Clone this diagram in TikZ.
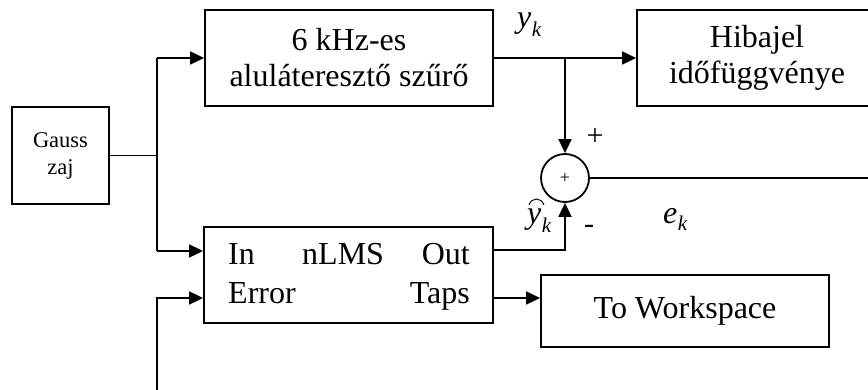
\documentclass[tikz,border=0pt]{standalone}
\usepackage{fontspec}
\setmainfont{Liberation Serif}
\usetikzlibrary{arrows.meta,calc}
\begin{document}
\begin{tikzpicture}[x=1pt,y=-1pt,
  blk/.style={draw,line width=1.8pt,rectangle,inner sep=0pt,align=center,font=\fontsize{32}{36}\selectfont},
  wire/.style={line width=1.8pt},
  arr/.style={line width=1.8pt,-{Triangle[length=14pt,width=13pt]}},
  lbl/.style={inner sep=0pt,font=\fontsize{32}{36}\selectfont},
  sub/.style={inner sep=0pt,font=\fontsize{21}{21}\selectfont}]
\useasboundingbox (0,0) rectangle (868,390);
\clip (0,0) rectangle (868,390);
% blocks
\node[blk,minimum width=97pt,minimum height=97pt,font=\fontsize{22.5}{27}\selectfont] (gauss) at (60.5,155.5) {Gauss\\zaj};
\node[blk,minimum width=288pt,minimum height=96pt] (filt) at (349,58) {6 kHz-es\\aluláteresztő szűrő};
\node[blk,minimum width=240pt,minimum height=96pt] (hib) at (757,58) {Hibajel\\időfüggvénye};
\node[draw,line width=1.8pt,circle,minimum size=48pt,inner sep=0pt,font=\fontsize{18}{18}\selectfont] (sum) at (565,178) {+};
\node[blk,minimum width=289pt,minimum height=96pt] (nlms) at (348.5,275) {};
\node[blk,minimum width=288pt,minimum height=72pt] (tows) at (685,311) {To Workspace};
% nLMS port texts
\node[lbl,anchor=base west] (tin) at (228,265) {In};
\node[lbl,anchor=base west] (tnlms) at (302,265) {nLMS};
\node[lbl,anchor=base east] (tout) at (470,265) {Out};
\node[lbl,anchor=base west] (terr) at (228,303) {Error};
\node[lbl,anchor=base east] (ttaps) at (470,303) {Taps};
% coordinates
\coordinate (jg) at (gauss.east -| 157,0);
\coordinate (jtop) at (157,58);
\coordinate (jin) at (157,251);
\coordinate (pin) at (nlms.west |- jin);
\coordinate (ebot) at (157,392);
\coordinate (jerr) at (157,298);
\coordinate (perr) at (nlms.west |- jerr);
\coordinate (jy) at (565,58);
\coordinate (pout) at (nlms.east |- 0,250);
\coordinate (jout) at (565,250);
\coordinate (ptaps) at (nlms.east |- jerr);
\coordinate (ptw) at (tows.west |- jerr);
\coordinate (eend) at (880,178);
% connectors
\draw[wire] (gauss.east) -- (jg);
\draw[wire] (jtop) -- (jin);
\draw[arr] (jtop) -- (filt.west);
\draw[arr] (jin) -- (pin);
\draw[arr] (ebot) -- (jerr) -- (perr);
\draw[arr] (filt.east) -- (hib.west);
\draw[arr] (jy) -- (sum.north);
\draw[arr] (pout) -- (jout) -- (sum.south);
\draw[arr] (ptaps) -- (ptw);
\draw[wire] (sum.east) -- (eend);
% signal labels
\node[lbl,anchor=base west,font=\fontsize{32}{36}\selectfont\itshape] (yk) at (517,28) {y};
\node[sub,anchor=base west,font=\fontsize{21}{21}\selectfont\itshape] (ykk) at (yk.base east) [yshift=-9pt] {k};
\node[lbl,anchor=base west,font=\fontsize{32}{36}\selectfont\itshape] (yh) at (527,224) {y};
\node[sub,anchor=base west,font=\fontsize{21}{21}\selectfont\itshape] (yhk) at (yh.base east) [yshift=-9pt] {k};
\draw[line width=1pt] ($(yh.base west)+(2,-19)$) .. controls ($(yh.base west)+(5,-27)$) and ($(yh.base west)+(14,-27)$) .. ($(yh.base west)+(17,-19)$);
\node[lbl,anchor=base west,font=\fontsize{32}{36}\selectfont\itshape] (ek) at (663,224) {e};
\node[sub,anchor=base west,font=\fontsize{21}{21}\selectfont\itshape] (ekk) at (ek.base east) [yshift=-7pt] {k};
\node[inner sep=0pt,font=\fontsize{30}{30}\selectfont] (plus) at (595,137) {+};
\node[inner sep=0pt,font=\fontsize{30}{30}\selectfont] (minus) at (589,229) {-};
\end{tikzpicture}
\end{document}
